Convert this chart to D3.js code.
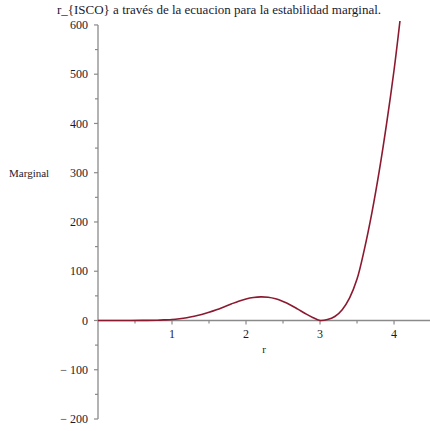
<!DOCTYPE html>
<html>
<head>
<meta charset="utf-8">
<script src="https://cdn.jsdelivr.net/npm/d3@7"></script>
<style>
  html, body { margin: 0; padding: 0; background: #fff; }
  svg { display: block; }
  text { font-family: "Liberation Serif", "DejaVu Serif", serif; fill: #1a1a2e; }
</style>
</head>
<body>
<svg id="chart" width="430" height="431"></svg>
<script>
// Marginal-stability curve sampled along r
const rValues = [0, 0.2, 0.4, 0.6, 0.8, 0.9, 1.0, 1.1, 1.2, 1.3, 1.4, 1.5, 1.6, 1.7, 1.8, 1.9, 2.0,
                 2.1, 2.2, 2.3, 2.4, 2.5, 2.6, 2.7, 2.8, 2.9, 3.0, 3.1, 3.2, 3.3, 3.4, 3.5,
                 3.6, 3.7, 3.8, 3.9, 4.0, 4.08];
const marginalValues = [0, 0, 0.02, 0.15, 0.6, 1.2, 2, 3.5, 5.6, 8.5, 12, 16.5, 21.7, 27.5, 33.5, 39.2, 43.8,
                        46.8, 48, 47.2, 44, 38.5, 31.5, 23, 14.2, 6.2, 0, 1.8, 8, 22, 46, 84,
                        145, 218, 303, 400, 508, 608];

const xMajorTicks = [1, 2, 3, 4];
const xMinorTicks = [0.5, 1.5, 2.5, 3.5, 4.5];
const yMajorTicks = [-200, -100, 0, 100, 200, 300, 400, 500, 600];
const yMinorTicks = [-150, -50, 50, 150, 250, 350, 450, 550];

const titleText = "r_{ISCO} a través de la ecuacion para la estabilidad marginal.";
const xLabel = "r";
const yLabel = "Marginal";

const svg = d3.select("#chart");
const axisColor = "#8a8a8a";

const x = d3.scaleLinear().domain([0, 4.486]).range([98, 430]);
const y = d3.scaleLinear().domain([-200, 608]).range([419, 21]);

const fmt = v => v < 0 ? "\u2212 " + Math.abs(v) : String(v);

// y axis
const yAxis = svg.append("g").attr("transform", `translate(${x(0)},0)`);
yAxis.append("line")
  .attr("x1", 0).attr("x2", 0)
  .attr("y1", y(600)).attr("y2", y(-200))
  .attr("stroke", axisColor).attr("stroke-width", 1.3);
yAxis.selectAll(".ymaj").data(yMajorTicks).join("line")
  .attr("x1", -4).attr("x2", 0)
  .attr("y1", d => y(d)).attr("y2", d => y(d))
  .attr("stroke", axisColor).attr("stroke-width", 1.2);
yAxis.selectAll(".ymin").data(yMinorTicks).join("line")
  .attr("x1", -3).attr("x2", 0)
  .attr("y1", d => y(d)).attr("y2", d => y(d))
  .attr("stroke", axisColor).attr("stroke-width", 1.2);
yAxis.selectAll(".ylab").data(yMajorTicks).join("text")
  .attr("x", -10).attr("y", d => y(d))
  .attr("dy", "0.35em")
  .attr("text-anchor", "end")
  .attr("font-size", 12)
  .text(fmt);

// x axis
const xAxis = svg.append("g").attr("transform", `translate(0,${y(0)})`);
xAxis.append("line")
  .attr("x1", x(0)).attr("x2", 430)
  .attr("y1", 0).attr("y2", 0)
  .attr("stroke", axisColor).attr("stroke-width", 1.3);
xAxis.selectAll(".xmaj").data(xMajorTicks).join("line")
  .attr("x1", d => x(d)).attr("x2", d => x(d))
  .attr("y1", 0).attr("y2", 4)
  .attr("stroke", axisColor).attr("stroke-width", 1.2);
xAxis.selectAll(".xmin").data(xMinorTicks).join("line")
  .attr("x1", d => x(d)).attr("x2", d => x(d))
  .attr("y1", 0).attr("y2", 3)
  .attr("stroke", axisColor).attr("stroke-width", 1.2);
xAxis.selectAll(".xlab").data(xMajorTicks).join("text")
  .attr("x", d => x(d)).attr("y", 18)
  .attr("text-anchor", "middle")
  .attr("font-size", 12)
  .text(d => d);

// axis titles
svg.append("text")
  .attr("x", 264).attr("y", 353)
  .attr("text-anchor", "middle")
  .attr("font-size", 11)
  .text(xLabel);
svg.append("text")
  .attr("x", 9).attr("y", y(300))
  .attr("dy", "0.35em")
  .attr("font-size", 11)
  .text(yLabel);

// title
svg.append("text")
  .attr("x", 219).attr("y", 14)
  .attr("text-anchor", "middle")
  .attr("font-size", 13)
  .attr("fill", "#111")
  .text(titleText);

// curve
const pts = rValues.map((r, i) => [r, marginalValues[i]]);
const line = d3.line()
  .x(d => x(d[0]))
  .y(d => y(d[1]))
  .curve(d3.curveCatmullRom.alpha(0.5));
svg.append("path")
  .datum(pts)
  .attr("d", line)
  .attr("fill", "none")
  .attr("stroke", "#8b1a30")
  .attr("stroke-width", 1.6);
</script>
</body>
</html>
